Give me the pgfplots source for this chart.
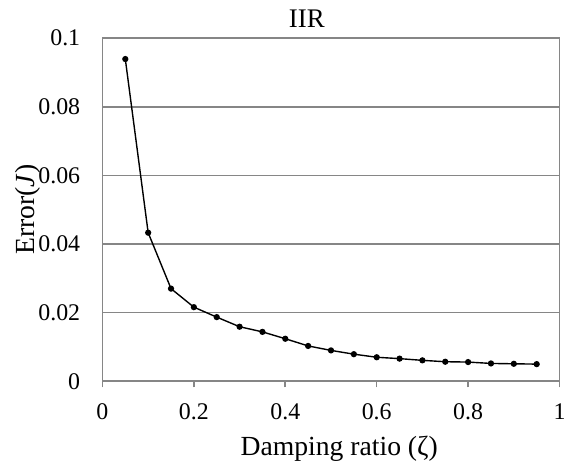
\documentclass[border=0pt]{standalone}
\usepackage{pgfplots}
\pgfplotsset{compat=1.18}
\usepackage{fontspec}
\setmainfont{Liberation Serif}

\definecolor{axisgray}{RGB}{134,134,134}

\begin{document}
\begin{tikzpicture}
\begin{axis}[
  at={(0,0)}, anchor=south west,
  scale only axis,
  width=229.75pt, height=172.5pt,
  xmin=0, xmax=1, ymin=0, ymax=0.1,
  xtick={0,0.2,0.4,0.6,0.8,1},
  ytick={0,0.02,0.04,0.06,0.08,0.1},
  xticklabels={0,0.2,0.4,0.6,0.8,1},
  yticklabels={0,0.02,0.04,0.06,0.08,0.1},
  /pgf/number format/assume math mode=true,
  axis line style={draw=axisgray, line width=0.9pt},
  ymajorgrids,
  grid style={draw=axisgray, line width=0.8pt},
  tick align=outside,
  major tick length=3pt,
  x tick style={draw=axisgray, line width=0.8pt},
  y tick style={draw=none},
  xtick pos=bottom, ytick pos=left,
  tick label style={font=\fontsize{12}{14}\selectfont},
  xticklabel style={anchor=north, inner sep=0pt, yshift=-8pt},
  yticklabel style={anchor=east, inner sep=0pt, xshift=-8pt},
  xlabel={Damping ratio (ζ)},
  xlabel style={at={(axis description cs:0.518,-0.2174)}, anchor=base, inner sep=0pt, font=\fontsize{13.9}{16}\selectfont},
  ylabel={Error(\textit{J})},
  ylabel style={at={(axis description cs:-0.148,0.5)}, anchor=base, inner sep=0pt, font=\fontsize{13.9}{16}\selectfont},
  clip=false,
]
\addplot[black, line width=0.7pt, mark=*, mark size=1.2pt] coordinates {
  (0.05,0.0939) (0.10,0.0433) (0.15,0.0270) (0.20,0.0216) (0.25,0.0187)
  (0.30,0.0159) (0.35,0.0144) (0.40,0.0124) (0.45,0.0103) (0.50,0.0090)
  (0.55,0.0079) (0.60,0.0070) (0.65,0.0066) (0.70,0.0061) (0.75,0.0057)
  (0.80,0.0056) (0.85,0.0052) (0.90,0.0051) (0.95,0.0050)
};
% chart title
\node[anchor=base, inner sep=0pt, font=\fontsize{13.5}{15}\selectfont]
  at (rel axis cs:0.447,1.0319) {IIR};
\end{axis}
\pgfresetboundingbox
\path[use as bounding box] (-51.5pt,-42.55pt) rectangle (232.5pt,191.65pt);
\end{tikzpicture}
\end{document}
